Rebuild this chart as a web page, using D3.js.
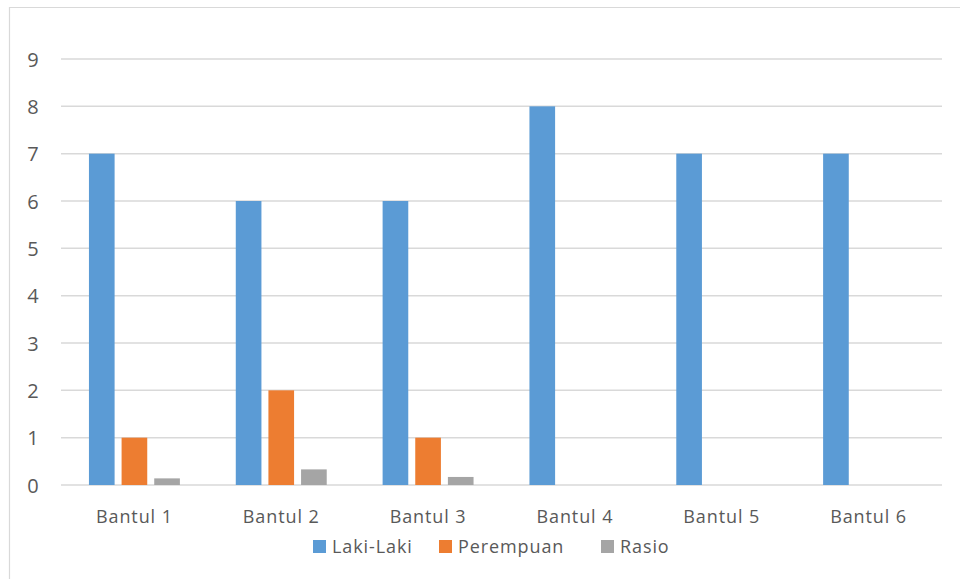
<!DOCTYPE html>
<html>
<head>
<meta charset="utf-8">
<script src="https://cdn.jsdelivr.net/npm/d3@7"></script>
<style>
  html, body { margin: 0; padding: 0; background: #ffffff; }
  svg { display: block; }
  text { font-family: "Open Sans", "Noto Sans", sans-serif; fill: #595959; }
</style>
</head>
<body>
<svg id="chart" width="960" height="579"></svg>
<script>
// Data
const categories = ["Bantul 1", "Bantul 2", "Bantul 3", "Bantul 4", "Bantul 5", "Bantul 6"];
const seriesNames = ["Laki-Laki", "Perempuan", "Rasio"];
const lakiLaki  = [7, 6, 6, 8, 7, 7];
const perempuan = [1, 2, 1, 0, 0, 0];
const rasio     = [0.14, 0.33, 0.17, 0, 0, 0];
const yTicks = [0, 1, 2, 3, 4, 5, 6, 7, 8, 9];
const colors = ["#5B9BD5", "#ED7D31", "#A5A5A5"];

const seriesValues = [lakiLaki, perempuan, rasio];

const svg = d3.select("#chart");
const W = 960, H = 579;
const margin = { left: 61, right: 18, top: 59, bottom: 94 };
const plotLeft = margin.left, plotRight = W - margin.right;
const plotTop = margin.top, plotBottom = H - margin.bottom;
const fontSize = 18, spacing = "0.9px";

// Chart frame
svg.append("path")
  .attr("d", `M9.5,${H} V7.5 H${W}`)
  .attr("fill", "none")
  .attr("stroke", "#d9d9d9")
  .attr("stroke-width", 1.2);

const y = d3.scaleLinear().domain([0, 9]).range([plotBottom, plotTop]);
const x0 = d3.scaleBand().domain(categories).range([plotLeft, plotRight]).paddingInner(0).paddingOuter(0);
const x1 = d3.scaleBand().domain(seriesNames).range([0, x0.bandwidth()])
  .paddingInner(0.214).paddingOuter(0.856);

// Gridlines
svg.append("g")
  .selectAll("line")
  .data(yTicks)
  .join("line")
  .attr("x1", plotLeft)
  .attr("x2", plotRight)
  .attr("y1", d => y(d))
  .attr("y2", d => y(d))
  .attr("stroke", "#d9d9d9")
  .attr("stroke-width", 1.5);

// Y axis labels
const yAxis = d3.axisLeft(y).tickValues(yTicks).tickSize(0).tickPadding(0).tickFormat(d3.format("d"));
const gy = svg.append("g").attr("transform", `translate(38,0)`).call(yAxis);
gy.select(".domain").remove();
gy.selectAll("text")
  .attr("font-size", 20)
  .attr("text-anchor", "middle")
  .attr("x", -5)
  .attr("dy", "0.36em")
  .style("font-family", "'Open Sans', sans-serif")
  .style("fill", "#595959");

// Bars
const rows = categories.map((c, i) => ({ cat: c, vals: seriesNames.map((s, j) => ({ s, v: seriesValues[j][i], c: colors[j] })) }));
svg.append("g")
  .selectAll("g")
  .data(rows)
  .join("g")
  .attr("transform", d => `translate(${x0(d.cat)},0)`)
  .selectAll("rect")
  .data(d => d.vals)
  .join("rect")
  .attr("x", d => x1(d.s))
  .attr("width", x1.bandwidth())
  .attr("y", d => y(d.v))
  .attr("height", d => y(0) - y(d.v))
  .attr("fill", d => d.c);

// X axis labels
const xAxis = d3.axisBottom(x0).tickSize(0).tickPadding(0);
const gx = svg.append("g").attr("transform", `translate(0,${plotBottom})`).call(xAxis);
gx.select(".domain").remove();
gx.selectAll("text")
  .attr("font-size", fontSize)
  .attr("y", 32)
  .attr("dy", "0.35em")
  .style("letter-spacing", spacing)
  .style("font-family", "'Open Sans', sans-serif")
  .style("fill", "#595959");

// Legend
const legendItems = [
  { name: seriesNames[0], color: colors[0], x: 313 },
  { name: seriesNames[1], color: colors[1], x: 439 },
  { name: seriesNames[2], color: colors[2], x: 601 }
];
const lg = svg.append("g").selectAll("g").data(legendItems).join("g")
  .attr("transform", d => `translate(${d.x},540)`);
lg.append("rect").attr("width", 13).attr("height", 13).attr("fill", d => d.color);
lg.append("text")
  .attr("x", 19)
  .attr("y", 7)
  .attr("dy", "0.35em")
  .attr("font-size", fontSize)
  .style("letter-spacing", spacing)
  .text(d => d.name);
</script>
</body>
</html>
